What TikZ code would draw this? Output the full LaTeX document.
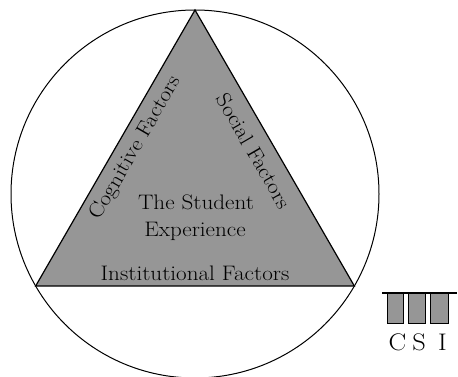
\documentclass[tikz,border=0pt]{standalone}
\usepackage{fontspec}
\setmainfont{Latin Modern Roman}[FakeStretch=1.1]
\begin{document}
\begin{tikzpicture}[x=1pt,y=-1pt,
  lbl/.style={font=\fontsize{21}{23}\selectfont, inner sep=0pt},
  logo/.style={font=\fontsize{24}{26}\selectfont, inner sep=0pt},
  shade/.style={fill=black!41},
  bar/.style={draw, line width=0.8pt, shade}]
\useasboundingbox (0,0) rectangle (458,377);
\node[circle, draw, line width=1pt, minimum size=368pt, inner sep=0pt] (circ) at (195,194) {};
\coordinate (A) at (195,10);
\coordinate (B) at (35.65,286);
\coordinate (C) at (354.35,286);
\draw[line width=1.2pt, shade, line join=miter] (A) -- (B) -- (C) -- cycle;
\node[lbl, rotate=60] (cog) at (136,148) {Cognitive Factors};
\node[lbl, rotate=-60] (soc) at (254,151) {Social Factors};
\node[lbl] (the) at (196,202) {The Student};
\node[lbl] (exp) at (195,231) {Experience};
\node[lbl] (inst) at (195,273) {Institutional Factors};
% CSI logo
\draw[bar] (387,293) rectangle (403,323);
\draw[bar] (408.5,293) rectangle (425,323);
\draw[bar] (430,293) rectangle (448,323);
\draw[line width=1.8pt] (382,293) -- (457,293);
\node[logo] (lc) at (397.5,342) {C};
\node[logo] (ls) at (419,342) {S};
\node[logo] (li) at (442.5,342) {I};
\end{tikzpicture}
\end{document}
